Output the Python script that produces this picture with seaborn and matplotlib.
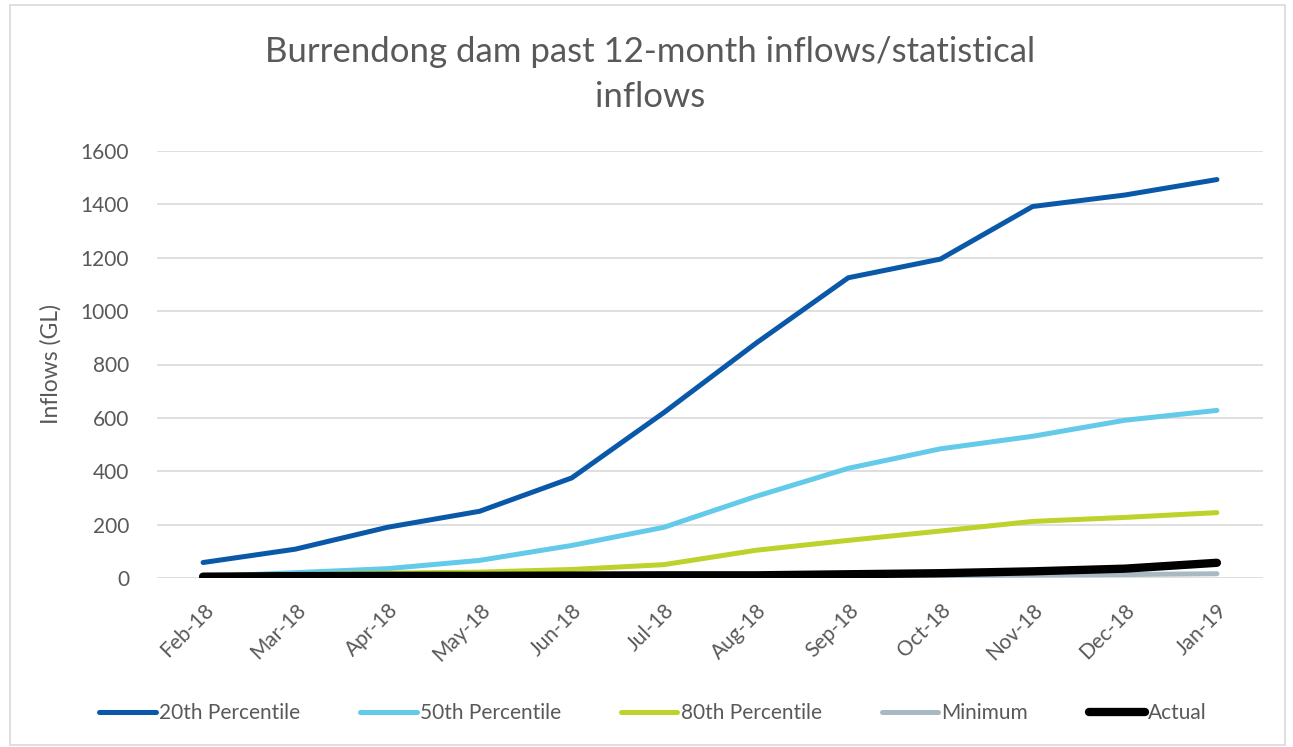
import seaborn as sns
import matplotlib.pyplot as plt
import matplotlib.patches as mpatches
from matplotlib.lines import Line2D
import pandas as pd

# Month labels
months = ['Feb-18', 'Mar-18', 'Apr-18', 'May-18', 'Jun-18', 'Jul-18',
          'Aug-18', 'Sep-18', 'Oct-18', 'Nov-18', 'Dec-18', 'Jan-19']

# Series values (GL)
p20 = [58, 108, 190, 250, 375, 620, 880, 1125, 1195, 1392, 1435, 1493]
p50 = [5, 20, 35, 66, 122, 190, 306, 411, 484, 531, 591, 628]
p80 = [3, 12, 18, 22, 32, 50, 104, 141, 176, 212, 227, 245]
minimum = [1, 2, 3, 3, 4, 5, 6, 8, 9, 11, 13, 16]
actual = [5, 7, 8, 8, 9, 10, 10, 14, 18, 25, 35, 57]

series = ['20th Percentile', '50th Percentile', '80th Percentile', 'Minimum', 'Actual']
colors = ['#0A58A8', '#63CAEA', '#BDD22A', '#A9B9C3', '#000000']
widths = [3.6, 3.6, 3.6, 3.6, 6.0]

data = pd.DataFrame({'month': months, series[0]: p20, series[1]: p50,
                     series[2]: p80, series[3]: minimum, series[4]: actual})
data['x'] = range(len(months))
data_long = pd.melt(data, id_vars=['month', 'x'], var_name='series', value_name='value')

sns.set_style('white')
plt.rcParams['font.family'] = ['Lato', 'DejaVu Sans']
text_grey = '#595959'

fig = plt.figure(figsize=(12.93, 7.47), dpi=100)
ax = fig.add_axes([157 / 1293, 1 - 578 / 747, (1263 - 157) / 1293, (578 - 151) / 747])

sns.lineplot(x='x', y='value', hue='series', data=data_long, palette=colors,
             hue_order=series, ax=ax, legend=False)
for line, lw in zip(ax.lines, widths):
    line.set_linewidth(lw)
    line.set_solid_capstyle('round')
    line.set_solid_joinstyle('round')

ax.set_xlim(-0.5, 11.5)
ax.set_ylim(0, 1600)
ax.set_yticks(range(0, 1601, 200))
ax.set_xticks(range(len(months)))
ax.set_xticklabels(months, rotation=45, ha='right', rotation_mode='anchor')
ax.tick_params(axis='both', labelsize=15, colors=text_grey, length=0)
ax.tick_params(axis='x', pad=16)
ax.tick_params(axis='y', pad=20)
ax.grid(True, axis='y', color='#D9D9D9', linewidth=1.2)
ax.set_axisbelow(True)
for s in ax.spines.values():
    s.set_visible(False)

ax.set_xlabel('')
ax.set_ylabel('Inflows (GL)', fontsize=16.5, color=text_grey, labelpad=14)

fig.suptitle('Burrendong dam past 12-month inflows/statistical\ninflows',
             x=650 / 1293, y=1 - 36 / 747, fontsize=25, color=text_grey,
             linespacing=1.5, va='top')

handles = [Line2D([0], [0], color=c, lw=lw, solid_capstyle='round') for c, lw in zip(colors, widths)]
fig.legend(handles=handles, labels=series, loc='center', bbox_to_anchor=(653 / 1293, 1 - 713 / 747),
           ncol=5, frameon=False, fontsize=15, labelcolor=text_grey,
           handlelength=2.7, handletextpad=0.15, columnspacing=2.9)

# Chart frame
fig.patches.append(mpatches.Rectangle((10 / 1293, 2 / 747), 1275 / 1293, 740 / 747,
                                      transform=fig.transFigure, fill=False,
                                      edgecolor='#D9D9D9', linewidth=1.2))

plt.savefig('out.png', dpi=100)
